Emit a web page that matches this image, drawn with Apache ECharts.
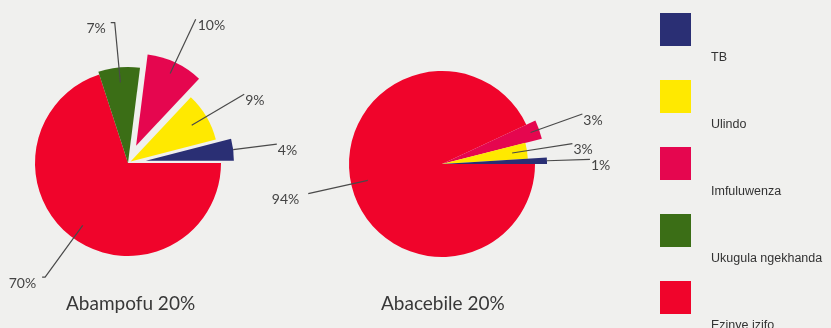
<!DOCTYPE html>
<html><head><meta charset="utf-8">
<script src="https://cdn.jsdelivr.net/npm/echarts@6/dist/echarts.min.js"></script>
<style>html,body{margin:0;padding:0;background:#f0f0ee}#c{width:831px;height:328px}</style>
</head><body><div id="c"></div>
<script>
// ---- data ----
const categories = ['TB', 'Ulindo', 'Imfuluwenza', 'Ukugula ngekhanda', 'Ezinye izifo'];
const abampofuValues = [4, 9, 10, 7, 70];
const abacebileValues = [1, 3, 3, 0, 94];
const pieTitles = ['Abampofu 20%', 'Abacebile 20%'];

// ---- styles ----
const colors = ['#2a2f74', '#ffe900', '#e5064f', '#3b6e16', '#f0042b'];
const leftStyle = {
  center: [128, 163],
  slices: [
    {radius: 88, offset: 18, len: 44, len2: 0, inset: 0, gap: 1},
    {radius: 88, offset: 3, len: 44, len2: 0, inset: 17, gap: 1},
    {radius: 92, offset: 19, len: 48, len2: 0, inset: 12, gap: 2},
    {radius: 96, offset: 0, len: 45, len2: 4, inset: 15, gap: 5},
    {radius: 93, offset: 0, len: 48, len2: 3, inset: 16, gap: 6}
  ]
};
const rightStyle = {
  center: [442, 164],
  slices: [
    {radius: 105, offset: 0, len: 43, len2: 0, inset: 0, gap: 1},
    {radius: 86, offset: 0, len: 46, len2: 0, inset: 15, gap: 1},
    {radius: 103, offset: 0, len: 46, len2: 0, inset: 9, gap: 1},
    {radius: 93, offset: 0, len: 0, len2: 0, inset: 0, gap: 1},
    {radius: 93, offset: 0, len: 44, len2: 0, inset: 17, gap: 9}
  ]
};
const labelFont = {fontFamily: 'Lato', fontSize: 14, color: '#444', lineHeight: 12};

function baseSeries(name, style, s, z) {
  return {
    type: 'pie', name, z,
    center: style.center, radius: [0, s.radius],
    startAngle: 0, clockwise: false,
    selectedMode: 'multiple', selectedOffset: s.offset,
    avoidLabelOverlap: false, silent: true, animation: false,
    minShowLabelAngle: 0,
    emphasis: {disabled: true, scale: false},
    labelLayout: {hideOverlap: false}
  };
}

function buildPie(values, style, prefix) {
  const order = [4, 3, 2, 1, 0]; // draw the big slice first
  const shapes = [], labels = [];
  order.forEach(k => {
    if (!(values[k] > 0)) return;
    const s = style.slices[k];
    // visible slice
    const sh = baseSeries(prefix + 'slice' + k, style, s, 2);
    sh.label = {show: false};
    sh.labelLine = {show: false};
    sh.data = values.map((v, i) => ({
      value: v, name: categories[i], selected: i === k && s.offset > 0,
      itemStyle: {color: i === k ? colors[i] : 'rgba(0,0,0,0)'}
    }));
    shapes.push(sh);
    // label layer: transparent, slightly smaller radius so the line starts inside the slice
    const ls = baseSeries(prefix + 'label' + k, style, {
      radius: s.radius - s.inset, offset: s.offset
    }, 5);
    ls.label = Object.assign({position: 'outside', formatter: '\n{c}%'}, labelFont);
    ls.labelLine = {lineStyle: {color: '#4a4a4a', width: 1.2}};
    ls.data = values.map((v, i) => {
      if (i !== k) {
        return {value: v, name: categories[i], itemStyle: {color: 'rgba(0,0,0,0)'},
          label: {show: false}, labelLine: {show: false}};
      }
      return {value: v, name: categories[i], selected: s.offset > 0,
        itemStyle: {color: 'rgba(0,0,0,0)'},
        label: {show: true, distanceToLabelLine: s.gap},
        labelLine: {show: true, length: s.len + s.inset, length2: s.len2}};
    });
    labels.push(ls);
  });
  return {shapes, labels};
}

const leftPie = buildPie(abampofuValues, leftStyle, 'a');
const rightPie = buildPie(abacebileValues, rightStyle, 'b');
const allSeries = [].concat(leftPie.shapes, rightPie.shapes, leftPie.labels, rightPie.labels);

const chart = echarts.init(document.getElementById('c'), null, {renderer: 'canvas'});
chart.setOption({
  backgroundColor: '#f0f0ee',
  animation: false,
  title: [
    {text: pieTitles[0], left: 61, top: 289, textStyle: {fontFamily: 'Lato', fontSize: 19, fontWeight: 'normal', color: '#383838'}},
    {text: pieTitles[1], left: 376, top: 289, textStyle: {fontFamily: 'Lato', fontSize: 19, fontWeight: 'normal', color: '#383838'}}
  ],
  legend: {
    orient: 'vertical', left: 660, top: 13, padding: 0, height: 400,
    itemWidth: 31, itemHeight: 33, itemGap: 15.5,
    icon: 'rect', selectedMode: false,
    data: categories.map((c, i) => ({name: c, itemStyle: {color: colors[i], opacity: 1}})),
    formatter: n => '{t|' + n + '}',
    textStyle: {rich: {t: {fontFamily: 'Liberation Sans', fontSize: 12.5, color: '#333', padding: [57, 0, 0, 15]}}}
  },
  series: allSeries
});
</script></body></html>
